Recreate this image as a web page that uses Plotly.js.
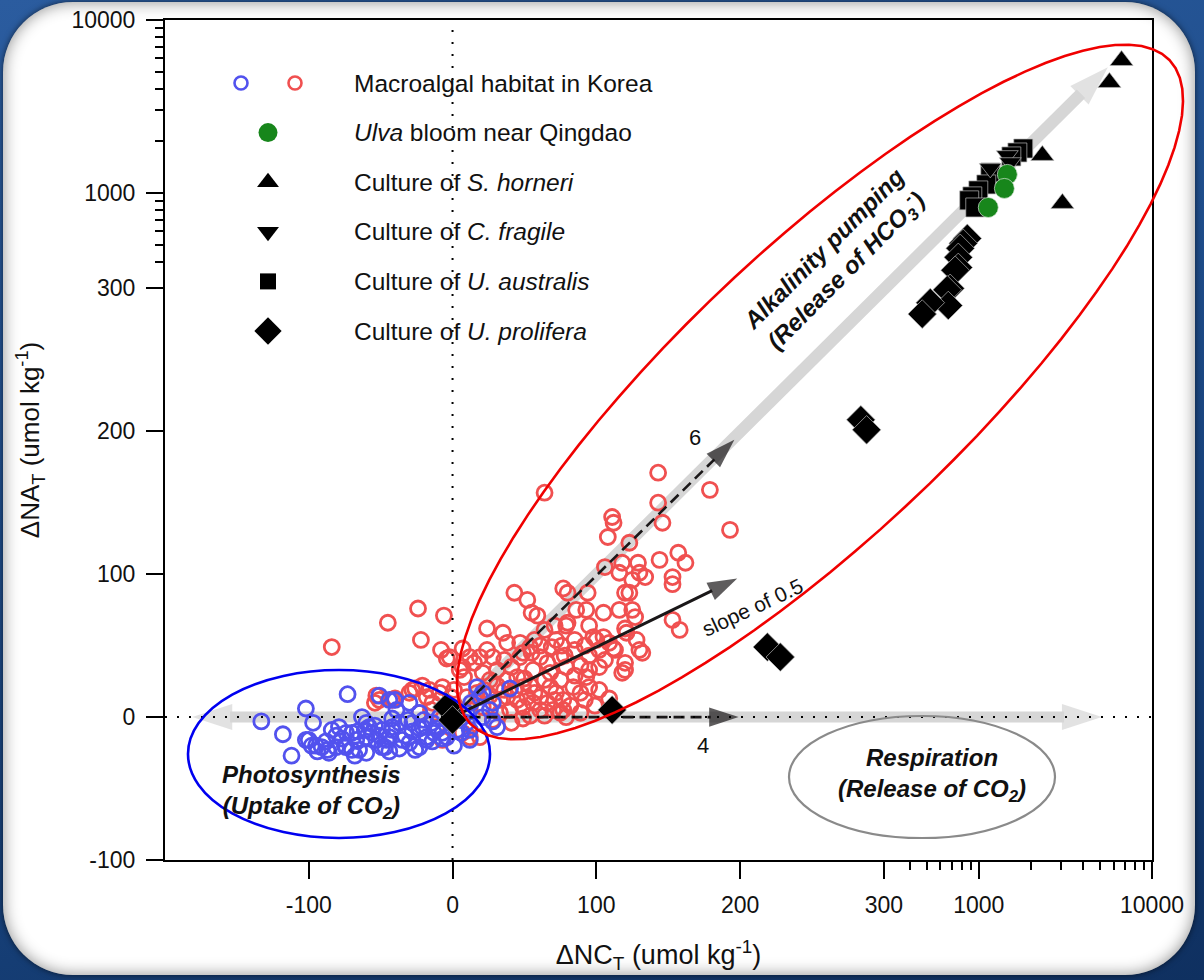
<!DOCTYPE html>
<html><head><meta charset="utf-8">
<script src="https://cdn.plot.ly/plotly-3.0.1.min.js"></script>
<style>
html,body{margin:0;padding:0;width:1204px;height:980px;overflow:hidden;}
body{background:linear-gradient(165deg,#2b5c9f 0%,#21508f 35%,#163f77 70%,#0f3060 100%);position:relative;font-family:"Liberation Sans",Arial,sans-serif;}
#panel{position:absolute;left:3px;top:2px;width:1192px;height:973px;border-radius:70px;background:#fff;box-shadow:inset 0 0 16px rgba(0,0,0,0.45),0 0 6px rgba(0,0,0,0.6);}
#chart{position:absolute;left:0;top:0;width:1204px;height:980px;}
</style></head><body>
<div id="panel"></div><div id="chart"></div>
<script>
// ---------------- data (real units, umol/kg) ----------------
const koreaRedX=[-84,-45,-24,-6,-22,-8,-4,7,24,35,64,143,179,193,143,146,111,112,108,123,144,157,162,153,153,106,118,116,129,130,134,125,123,120,77,80,94,43,52,55,59,86,93,105,116,125,127,153,158,79,120,121,130,132,120,120,109,112,98,100,72,76,69,61,66,54,49,38,28,47,19,7,109,41,75,79,61,80,105,113,24,12,-2,118,95,102,89,93,75,79,68,56,50,41,45,31,38,21,26,15,68,72,77,84,89,95,61,66,52,56,45,49,38,70,77,33,21,17,49,-53,-51,-40,-30,-26,-21,-16,-9,5,8,1,10,-7,-1,-14,-15,-11,-7,12,19,-54,-42,-28,-18,-23,7,28,49,47,55,128,36,43,54,64,75,85,95,57,71,82,92,99,102,33,26,40,54,64,89,12,22,31,36,61,78,85,92,102,106,85,95,71,64,57];
const koreaRedY=[49,66,76,71,54,47,41,48,62,59,157,171,159,131,150,136,140,136,126,122,110,115,108,98,93,105,108,101,108,101,98,96,87,87,90,87,87,87,82,73,71,75,75,73,75,75,70,68,61,64,62,59,47,45,38,33,52,48,56,54,54,50,49,42,38,49,45,52,42,42,42,35,13,-4,3,0,5,66,56,47,47,42,42,31,43,35,36,28,42,35,31,33,27,35,28,33,26,31,26,38,21,17,12,21,17,21,14,10,14,10,12,7,14,5,5,3,7,17,21,15,12,13,17,20,22,19,17,33,28,19,14,21,14,10,5,-7,-16,-14,-14,10,12,19,14,3,-11,-2,-1,52,45,54,19,19,22,26,26,29,33,17,12,8,12,8,19,12,15,5,1,1,3,5,19,22,40,50,43,47,50,47,40,54,64,64,61,54];
const koreaBlueX=[-73,-51,-102,-133,-118,-112,-97,-100,-95,-91,-86,-84,-81,-77,-74,-70,-67,-63,-60,-56,-53,-65,-60,-49,-44,-42,-37,-44,-49,-44,-35,-30,-28,-23,-18,-14,-23,-30,-39,-14,-7,-4,3,10,12,-9,-23,-37,-70,-81,-88,-79,-102,-94,-87,-74,-60,-46,-42,-98,-66,-58,-51,-47,-42,-31,-28,-21,-18,-13,-7,-2,6,10,12,17,21,19,28,40,26,28,13,21,31,-40,-61,-54,-75,-68,-33,-26,-20,-10,1,5];
const koreaBlueY=[16,15,6,-3,-12,-27,-4,-16,-20,-21,-25,-9,-13,-15,-21,-11,-16,0,-4,-11,-16,-23,-25,-9,-14,-1,-4,12,-21,-24,-16,-18,-4,-8,-14,-17,3,10,5,-4,-11,-14,-9,-4,-9,0,-21,-22,-23,-21,-17,-7,-16,-24,-23,-11,-14,-16,-9,-20,-10,-7,-13,-21,-7,-2,-10,-7,-16,-11,-15,-4,-11,3,-16,21,17,14,10,20,5,-3,10,0,-7,12,-9,-6,-20,-27,-13,-23,-2,-8,-20,-2];
const ulvaX=[1462,1406,1135];
const ulvaY=[1280,1062,824];
const shorneriX=[2328,3040,5680,6670];
const shorneriY=[1648,870,4354,5835];
const cfragileX=[1462,1166,1521];
const cfragileY=[1648,1387,1500];
const uaustralisX=[1807,1671,1542,1166,1105,994,918,881,955];
const uaustralisY=[1807,1714,1626,1314,1120,1034,955,906,824];
const uproliferaX=[859,814,782,762,762,731,684,658,667,525,472,284,288,219,228,111,-4,0];
const uproliferaY=[546,511,478,424,371,357,300,299,288,290,282,208,201,49,42,5,7,-2];
// guide arrows (end points, real units)
const slope6Tip=[196,194];
const slopeHalfTip=[198,97];
const slope4Tip=[199,0];
const grayDiagTip=[5560,5340];
const grayRightTip=[5140,0];
const grayLeftTip=[-181,0];
// ticks
const tickVals=[-100,0,100,200,300,1000,10000];
const tickText=['-100','0','100','200','300','1000','10000'];
const minorVals=[400,500,600,700,800,900,2000,3000,4000,5000,6000,7000,8000,9000];
const legendLabels=['Macroalgal habitat in Korea','<i>Ulva</i> bloom near Qingdao','Culture of <i>S. horneri</i>','Culture of <i>C. fragile</i>','Culture of <i>U. australis</i>','Culture of <i>U. prolifera</i>'];

// ---------------- broken axis scale: linear to 300, log above ----------------
const BRK=300;
function tx(v){return v<=BRK? v : 303 + 120.5*Math.log10(v/BRK);}
function ty(v){return v<=BRK? v : 303.5 + 121*Math.log10(v/BRK);}

const FONT='"Liberation Sans", Arial, sans-serif';
const L=165,R=1152,T=20,B=860;
const px2x=p=>(p-L)/(R-L), py2y=p=>(B-p)/(B-T);

function ellipsePath(cx,cy,a,b,deg){
  const th=deg*Math.PI/180;let d='';
  for(let i=0;i<=90;i++){const t=i/90*2*Math.PI;
    const px=cx+a*Math.cos(t)*Math.cos(th)+b*Math.sin(t)*Math.sin(th);
    const py=cy-a*Math.cos(t)*Math.sin(th)+b*Math.sin(t)*Math.cos(th);
    d+=(i?'L':'M')+px2x(px).toFixed(4)+','+py2y(py).toFixed(4);}
  return d+'Z';
}
function arrowTrace(p0,p1,color,width,dash,head){
  return {type:'scatter',mode:'lines+markers',x:[tx(p0[0]),tx(p1[0])],y:[ty(p0[1]),ty(p1[1])],
    line:{color:color,width:width,dash:dash},
    marker:{symbol:'arrow',angleref:'previous',size:[0,head],color:color,line:{width:0}},
    hoverinfo:'skip',showlegend:false,cliponaxis:false};
}
function pts(X,Y,marker){return {type:'scatter',mode:'markers',x:X.map(tx),y:Y.map(ty),marker:marker,hoverinfo:'skip',showlegend:false,cliponaxis:false};}

const RED='#f05050', BLUE='#5252ee';
const blackLine={color:'#b8b8b8',width:0.7};
const traces=[
  arrowTrace([0,0],grayLeftTip,'#d6d6d6',11,'solid',42),
  arrowTrace([0,0],grayRightTip,'#d6d6d6',11,'solid',42),
  arrowTrace([0,0],grayDiagTip,'#d6d6d6',12,'solid',42),
  pts(koreaRedX,koreaRedY,{symbol:'circle-open',size:15,color:RED,line:{width:2.8,color:RED}}),
  pts(koreaBlueX,koreaBlueY,{symbol:'circle-open',size:15,color:BLUE,line:{width:2.8,color:BLUE}}),
  arrowTrace([0,0],slope6Tip,'#1a1718',2.6,'11px,6px',31),
  arrowTrace([0,0],slopeHalfTip,'#1a1718',3,'solid',31),
  arrowTrace([0,0],slope4Tip,'#1a1718',2.6,'11px,6px',31),
  pts(uproliferaX,uproliferaY,{symbol:'diamond',size:22,color:'#000',line:blackLine}),
  pts(uaustralisX,uaustralisY,{symbol:'square',size:19,color:'#000',line:blackLine}),
  pts(cfragileX,cfragileY,{symbol:'triangle-down',size:19,color:'#000',line:blackLine}),
  pts(shorneriX,shorneriY,{symbol:'triangle-up',size:20,color:'#000',line:blackLine}),
  pts(ulvaX,ulvaY,{symbol:'circle',size:20,color:'#17861b',line:{color:'#d8e8d8',width:0.7}})
];

// legend (drawn on a hidden overlay axis in pixel units)
const rowY=i=>83+i*49.6;
const legMarkers=[
  {x:241,y:0,m:{symbol:'circle-open',size:13,color:BLUE,line:{width:2.6,color:BLUE}}},
  {x:295,y:0,m:{symbol:'circle-open',size:13,color:RED,line:{width:2.6,color:RED}}},
  {x:268,y:1,m:{symbol:'circle',size:19,color:'#17861b'}},
  {x:268,y:2,m:{symbol:'triangle-up',size:19,color:'#000'}},
  {x:268,y:3,m:{symbol:'triangle-down',size:19,color:'#000'}},
  {x:268,y:4,m:{symbol:'square',size:16,color:'#000'}},
  {x:268,y:5,m:{symbol:'diamond',size:21,color:'#000'}}
];
legMarkers.forEach(l=>traces.push({type:'scatter',mode:'markers',x:[l.x],y:[rowY(l.y)],xaxis:'x2',yaxis:'y2',marker:l.m,hoverinfo:'skip',showlegend:false,cliponaxis:false}));

const annotations=legendLabels.map((t,i)=>({xref:'x2',yref:'y2',x:352,y:rowY(i),text:t,showarrow:false,xanchor:'left',yanchor:'middle',font:{family:FONT,size:24.5,color:'#111'}}));
const bi=s=>'<b><i>'+s+'</i></b>';
function lab(px,py,text,size,angle){return {xref:'paper',yref:'paper',x:px2x(px),y:py2y(py),text:text,showarrow:false,xanchor:'center',yanchor:'middle',textangle:angle||0,font:{family:FONT,size:size,color:'#111'}};}
annotations.push(
 lab(311,792,bi('Photosynthesis')+'<br>'+bi('(Uptake of CO<sub>2</sub>)'),24),
 lab(932,775,bi('Respiration')+'<br>'+bi('(Release of CO<sub>2</sub>)'),24),
 lab(836,261,bi('Alkalinity pumping')+'<br>'+bi('(Release of HCO<sub>3</sub><sup>-</sup>)'),24,-45),
 lab(695,437,'6',22),
 lab(703,745,'4',22),
 lab(752,607,'slope of 0.5',21,-25)
);

const shapes=[
 {type:'line',xref:'x',yref:'paper',x0:0,x1:0,y0:0,y1:1,line:{color:'#000',width:2,dash:'2px,10px'},layer:'above'},
 {type:'line',xref:'paper',yref:'y',x0:0,x1:1,y0:0,y1:0,line:{color:'#000',width:2,dash:'2px,10px'},layer:'above'},
 {type:'circle',xref:'paper',yref:'paper',x0:px2x(188),x1:px2x(490),y0:py2y(838),y1:py2y(670),line:{color:'#0000f0',width:2.6},layer:'above'},
 {type:'circle',xref:'paper',yref:'paper',x0:px2x(789),x1:px2x(1055),y0:py2y(838),y1:py2y(716),line:{color:'#8a8a8a',width:2.2},layer:'above'},
 {type:'path',xref:'paper',yref:'paper',path:ellipsePath(820,392,482,142,43.5),line:{color:'#f00000',width:2.6},layer:'above'}
];

const axisCommon={tickmode:'array',ticks:'outside',ticklen:17,tickwidth:2,tickcolor:'#000',showline:true,linewidth:2,linecolor:'#000',mirror:true,showgrid:false,zeroline:false,
  tickfont:{family:FONT,size:23,color:'#111'},ticklabelstandoff:6,
  minor:{tickmode:'array',tickvals:[],ticks:'outside',ticklen:8,tickwidth:2,tickcolor:'#000',showgrid:false}};

const layout={
 width:1204,height:980,margin:{l:L,r:1204-R,t:T,b:980-B},
 paper_bgcolor:'rgba(0,0,0,0)',plot_bgcolor:'rgba(0,0,0,0)',showlegend:false,
 font:{family:FONT,color:'#111'},
 xaxis:Object.assign({},axisCommon,{range:[-200,tx(10000)+0.01],tickvals:tickVals.map(tx),ticktext:tickText,
   minor:Object.assign({},axisCommon.minor,{tickvals:minorVals.map(tx)}),
   title:{text:'ΔNC<sub>T</sub> (umol kg<sup>-1</sup>)',font:{family:FONT,size:27,color:'#111'},standoff:29}}),
 yaxis:Object.assign({},axisCommon,{range:[-100,ty(10000)+0.01],tickvals:tickVals.map(ty),ticktext:tickText,
   minor:Object.assign({},axisCommon.minor,{tickvals:minorVals.map(ty)}),
   title:{text:'ΔNA<sub>T</sub> (umol kg<sup>-1</sup>)',font:{family:FONT,size:26,color:'#111'},standoff:24}}),
 xaxis2:{overlaying:'x',range:[L,R],visible:false,fixedrange:true},
 yaxis2:{overlaying:'y',range:[B,T],visible:false,fixedrange:true},
 shapes:shapes,annotations:annotations
};
Plotly.newPlot('chart',traces,layout,{displayModeBar:false,staticPlot:true});
</script></body></html>
